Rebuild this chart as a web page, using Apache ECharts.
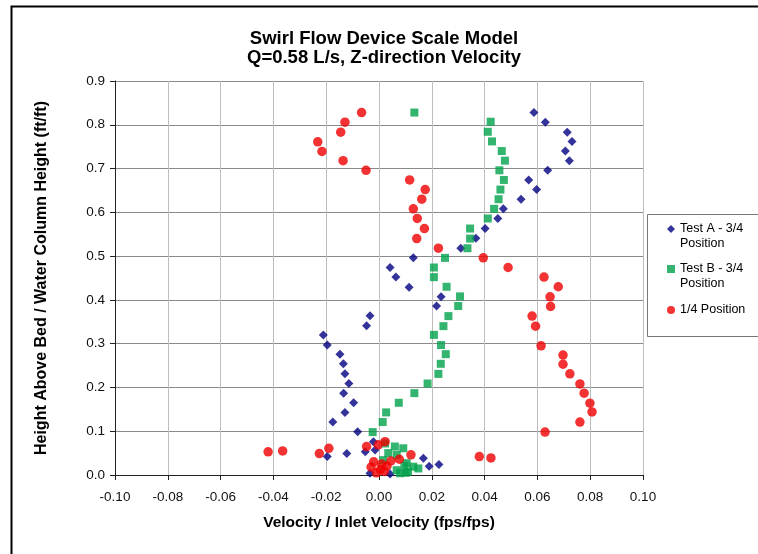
<!DOCTYPE html>
<html>
<head>
<meta charset="utf-8">
<script src="https://cdn.jsdelivr.net/npm/echarts@6/dist/echarts.min.js"></script>
<style>
  html, body { margin: 0; padding: 0; background: #fff; }
  #chart { width: 758px; height: 554px; }
</style>
</head>
<body>
<div id="chart"></div>
<script>
// Test A - 3/4 Position  [velocity ratio, height ratio]
var testA = [
  [0.0587, 0.828], [0.0630, 0.806], [0.0713, 0.783], [0.0731, 0.762], [0.0706, 0.740],
  [0.0721, 0.718], [0.0639, 0.696], [0.0567, 0.674], [0.0597, 0.652], [0.0538, 0.630],
  [0.0471, 0.608], [0.0450, 0.586], [0.0402, 0.563], [0.0367, 0.541], [0.0310, 0.518],
  [0.0130, 0.496], [0.0042, 0.474], [0.0064, 0.452], [0.0114, 0.429], [0.0235, 0.407],
  [0.0218, 0.386], [-0.0034, 0.364], [-0.0047, 0.341], [-0.0211, 0.320], [-0.0196, 0.297],
  [-0.0148, 0.276], [-0.0135, 0.254], [-0.0129, 0.231], [-0.0114, 0.209], [-0.0134, 0.187],
  [-0.0096, 0.165], [-0.0129, 0.143], [-0.0175, 0.121], [-0.0081, 0.099], [-0.0021, 0.076],
  [-0.0015, 0.057], [-0.0052, 0.053], [-0.0122, 0.049], [-0.0196, 0.042], [0.0168, 0.038],
  [0.0227, 0.024], [0.0190, 0.020], [-0.0034, 0.004], [0.0042, 0.002]
];

// Test B - 3/4 Position
var testB = [
  [0.0134, 0.828], [0.0423, 0.807], [0.0412, 0.784], [0.0428, 0.762], [0.0465, 0.740],
  [0.0477, 0.718], [0.0456, 0.696], [0.0473, 0.674], [0.0460, 0.652], [0.0453, 0.630],
  [0.0436, 0.608], [0.0412, 0.586], [0.0345, 0.563], [0.0345, 0.540], [0.0335, 0.518],
  [0.0250, 0.496], [0.0208, 0.474], [0.0208, 0.452], [0.0256, 0.430], [0.0307, 0.408],
  [0.0300, 0.386], [0.0263, 0.363], [0.0244, 0.340], [0.0208, 0.320], [0.0235, 0.297],
  [0.0253, 0.276], [0.0234, 0.254], [0.0225, 0.231], [0.0184, 0.209], [0.0134, 0.187],
  [0.0075, 0.165], [0.0027, 0.143], [0.0014, 0.121], [-0.0024, 0.098], [0.0023, 0.072],
  [0.0060, 0.065], [0.0092, 0.061], [0.0035, 0.050], [0.0067, 0.046], [0.0016, 0.034],
  [0.0105, 0.027], [0.0096, 0.021], [0.0130, 0.019], [0.0149, 0.015], [0.0067, 0.011],
  [0.0110, 0.008], [0.0080, 0.004], [0.0101, 0.005]
];

// 1/4 Position
var quarter = [
  [-0.0066, 0.828], [-0.0129, 0.806], [-0.0145, 0.783], [-0.0232, 0.761], [-0.0216, 0.739],
  [-0.0136, 0.718], [-0.0049, 0.696], [0.0116, 0.674], [0.0175, 0.652], [0.0162, 0.630],
  [0.0130, 0.608], [0.0145, 0.586], [0.0172, 0.563], [0.0143, 0.540], [0.0225, 0.518],
  [0.0395, 0.496], [0.0489, 0.474], [0.0625, 0.452], [0.0679, 0.430], [0.0648, 0.407],
  [0.0650, 0.385], [0.0580, 0.363], [0.0593, 0.340], [0.0614, 0.295], [0.0697, 0.274],
  [0.0697, 0.253], [0.0723, 0.231], [0.0761, 0.208], [0.0777, 0.187], [0.0799, 0.164],
  [0.0807, 0.144], [0.0761, 0.121], [0.0629, 0.098], [-0.0420, 0.053], [-0.0365, 0.055],
  [-0.0226, 0.049], [-0.0190, 0.061], [-0.0047, 0.065], [-0.0003, 0.069], [0.0023, 0.076],
  [0.0380, 0.042], [0.0424, 0.039], [0.0077, 0.036], [0.0121, 0.046], [-0.0020, 0.030],
  [0.0010, 0.025], [-0.0030, 0.018], [0.0005, 0.012], [0.0030, 0.020], [-0.0010, 0.005],
  [0.0020, 0.008], [0.0045, 0.032]
];

var seriesNames = ['Test A - 3/4\nPosition', 'Test B - 3/4\nPosition', '1/4 Position'];
var seriesIcons = ['diamond', 'rect', 'circle'];

var xMin = -0.10, xMax = 0.10, xStep = 0.02;
var yMin = 0, yMax = 0.9, yStep = 0.1;

var chart = echarts.init(document.getElementById('chart'), null, { renderer: 'canvas' });

var font = 'Liberation Sans, Arial, sans-serif';

// one legend block per series so each marker sits on the first text line
var legendTops = [201.5, 241.5, 297.5];
var legends = seriesNames.map(function (name, i) {
  return {
    orient: 'vertical',
    left: 662,
    top: legendTops[i],
    itemWidth: 8,
    itemHeight: 8,
    textStyle: { fontSize: 12.5, color: '#000', lineHeight: 15, fontFamily: font },
    // blank first line pushes the label down so line one is level with the marker
    formatter: function (n) { return n.indexOf('\n') >= 0 ? '\n' + n : n; },
    data: [{ name: name, icon: seriesIcons[i] }]
  };
});

var option = {
  backgroundColor: '#fff',
  animation: false,
  textStyle: { fontFamily: font },
  title: {
    text: 'Swirl Flow Device Scale Model\nQ=0.58 L/s, Z-direction Velocity',
    left: 379,
    top: 24,
    textAlign: 'center',
    textStyle: { fontSize: 18.5, fontWeight: 'bold', color: '#000', lineHeight: 19, fontFamily: font }
  },
  grid: { left: 115, top: 81, width: 528, height: 394 },
  legend: legends,
  xAxis: {
    type: 'value',
    min: xMin,
    max: xMax,
    interval: xStep,
    name: 'Velocity / Inlet Velocity (fps/fps)',
    nameLocation: 'middle',
    nameGap: 40,
    nameTextStyle: { fontSize: 15.5, fontWeight: 'bold', color: '#000' },
    axisLine: { onZero: false, lineStyle: { color: '#222', width: 1 } },
    axisTick: { show: true, length: 5, lineStyle: { color: '#222' } },
    axisLabel: { fontSize: 13.5, color: '#111', margin: 15, formatter: function (v) { return v.toFixed(2); } },
    splitLine: { show: true, lineStyle: { color: '#bdbdbd', width: 1 } }
  },
  yAxis: {
    type: 'value',
    min: yMin,
    max: yMax,
    interval: yStep,
    name: 'Height Above Bed / Water Column Height (ft/ft)',
    nameLocation: 'middle',
    nameGap: 65,
    nameTextStyle: { fontSize: 16, fontWeight: 'bold', color: '#000' },
    axisLine: { show: true, onZero: false, lineStyle: { color: '#222', width: 1 } },
    axisTick: { show: true, length: 5, lineStyle: { color: '#222' } },
    axisLabel: { fontSize: 13.5, color: '#111', margin: 10, formatter: function (v) { return v.toFixed(1); } },
    splitLine: { show: true, lineStyle: { color: '#8a8a8a', width: 1 } }
  },
  series: [
    {
      name: seriesNames[0],
      type: 'scatter',
      symbol: 'diamond',
      symbolSize: 9,
      itemStyle: { color: '#000080' },
      data: testA,
      z: 2
    },
    {
      name: seriesNames[1],
      type: 'scatter',
      symbol: 'rect',
      symbolSize: 8,
      itemStyle: { color: '#00a14b' },
      data: testB,
      z: 3
    },
    {
      name: seriesNames[2],
      type: 'scatter',
      symbol: 'circle',
      symbolSize: 9.5,
      itemStyle: { color: '#f00000' },
      data: quarter,
      z: 4
    }
  ],
  graphic: [
    {
      type: 'rect',
      shape: { x: 11.5, y: 6.5, width: 760, height: 560 },
      style: { fill: 'none', stroke: '#000', lineWidth: 2 },
      silent: true
    },
    {
      type: 'rect',
      shape: { x: 647.5, y: 214.5, width: 112, height: 122 },
      style: { fill: 'none', stroke: '#777', lineWidth: 1 },
      silent: true
    }
  ]
};

chart.setOption(option);
</script>
</body>
</html>
